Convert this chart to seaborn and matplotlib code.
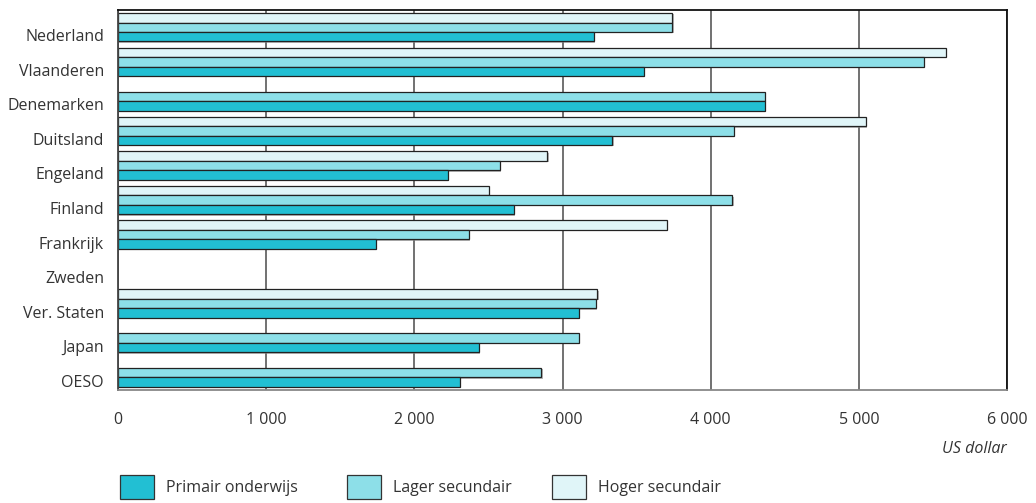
import matplotlib
matplotlib.use('Agg')
import matplotlib.pyplot as plt
import matplotlib.transforms as mtransforms
import matplotlib.patheffects as pe
from matplotlib.patches import Patch
import seaborn as sns
import pandas as pd
import numpy as np

nan = np.nan
landen = ['Nederland', 'Vlaanderen', 'Denemarken', 'Duitsland', 'Engeland', 'Finland',
          'Frankrijk', 'Zweden', 'Ver. Staten', 'Japan', 'OESO']
primair = [3210, 3550, 4365, 3335, 2225, 2670, 1740, nan, 3110, 2435, 2305]
lager = [3740, 5437, 4365, 4155, 2575, 4145, 2368, nan, 3225, 3108, 2856]
hoger = [3740, 5585, nan, 5049, 2898, 2504, 3705, nan, 3235, nan, nan]
niveaus = ['Primair onderwijs', 'Lager secundair', 'Hoger secundair']
xticks = [0, 1000, 2000, 3000, 4000, 5000, 6000]
xticklabels = ['0', '1 000', '2 000', '3 000', '4 000', '5 000', '6 000']
kleuren = {'Primair onderwijs': '#22bfd3', 'Lager secundair': '#8ddfe8', 'Hoger secundair': '#e0f5f8'}

rows = []
for i, land in enumerate(landen):
    for niv, vals in zip(niveaus, [primair, lager, hoger]):
        if not np.isnan(vals[i]):
            rows.append({'land': land, 'niveau': niv, 'waarde': vals[i]})
df = pd.DataFrame(rows)

sns.set_theme(style='white')
plt.rcParams['font.family'] = ['Open Sans', 'DejaVu Sans']
txtcol = '#333333'

fig = plt.figure(figsize=(10.36, 5.03), dpi=100)
ax = fig.add_axes([118/1036, 1 - 390/503, (1007-118)/1036, (390-10)/503])

sns.barplot(data=df, y='land', x='waarde', hue='niveau', order=landen,
            hue_order=['Hoger secundair', 'Lager secundair', 'Primair onderwijs'],
            palette=kleuren, saturation=1, orient='h', width=0.82, edgecolor='#222222',
            linewidth=0.9, dodge=True, legend=False, errorbar=None, ax=ax)

for p in ax.patches:
    p.set_path_effects([pe.SimplePatchShadow(offset=(1, -1), shadow_rgbFace='#888888', alpha=0.6), pe.Normal()])

ax.set_xlim(0, 6000)
ax.set_ylim(10.5, -0.5)
ax.set_xticks(xticks)
ax.set_xticklabels(xticklabels)
ax.set_xlabel('')
ax.set_ylabel('')
ax.xaxis.grid(True, color='#666666', linewidth=1.3)
ax.yaxis.grid(False)
ax.set_axisbelow(True)
ax.tick_params(axis='x', length=0, pad=16, labelsize=11.5, labelcolor=txtcol)
ax.tick_params(axis='y', length=0, pad=10, labelsize=11.5, labelcolor=txtcol)

offset = mtransforms.ScaledTranslation(0, -8/100, fig.dpi_scale_trans)
for lab in ax.get_yticklabels():
    lab.set_transform(lab.get_transform() + offset)

for side, col in [('top', '#111111'), ('right', '#111111'), ('left', '#444444'), ('bottom', '#888888')]:
    ax.spines[side].set_visible(True)
    ax.spines[side].set_color(col)
    ax.spines[side].set_linewidth(1.3)

fig.text(1007/1036, 1 - 449/503, 'US dollar', ha='right', va='center',
         style='italic', fontsize=11.5, color=txtcol)

legend_x = [120, 347, 552]
for niv, lx in zip(niveaus, legend_x):
    h = Patch(facecolor=kleuren[niv], edgecolor='#333333', linewidth=0.9)
    fig.legend([h], [niv], loc='center left', bbox_to_anchor=(lx/1036, 1 - 487/503),
               frameon=False, borderpad=0, borderaxespad=0, handlelength=2.1,
               handleheight=1.9, handletextpad=0.8, fontsize=11.5, labelcolor=txtcol)

fig.savefig('out.png', dpi=100)
